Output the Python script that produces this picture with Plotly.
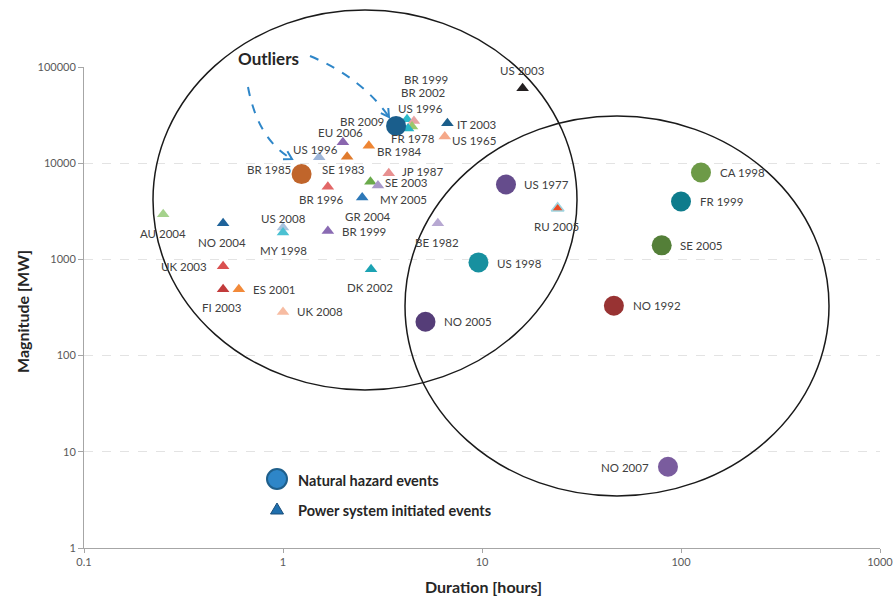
import math
import plotly.graph_objects as go

# ---------------- data ----------------
nat_labels = ["BR 1985", "BR 2009", "US 1977", "US 1998", "NO 2005",
              "CA 1998", "FR 1999", "SE 2005", "NO 1992", "NO 2007"]
nat_duration = [1.24, 3.7, 13.2, 9.6, 5.2, 126, 100, 80, 46, 86]
nat_magnitude = [7700, 24400, 6000, 930, 225, 8000, 4000, 1400, 330, 7]

pow_labels = ["US 2003", "IT 2003", "US 1965", "US 1996", "BR 1999", "BR 2002",
              "FR 1978", "EU 2006", "BR 1984", "US 1996", "SE 1983", "JP 1987",
              "SE 2003", "GR 2004", "BR 1996", "MY 2005", "AU 2004", "NO 2004",
              "US 2008", "MY 1998", "BR 1999", "BE 1982", "RU 2005", "UK 2003",
              "FI 2003", "ES 2001", "DK 2002", "UK 2008"]
pow_duration = [16, 6.7, 6.5, 4.2, 4.55, 4.45, 4.25, 2.0, 2.7, 1.52, 2.1, 3.4,
                2.75, 3.0, 1.68, 2.5, 0.25, 0.5, 1.0, 1.0, 1.68, 6.0, 24, 0.5,
                0.5, 0.6, 2.77, 1.0]
pow_magnitude = [60000, 26000, 19000, 28600, 27500, 24000, 23000, 16500, 15200,
                 11500, 11700, 7850, 6400, 5850, 5700, 4400, 2950, 2370, 2150,
                 1900, 1970, 2370, 3400, 850, 490, 490, 790, 284]

x_tickvals = [0.1, 1, 10, 100, 1000]
x_ticktext = ["0.1", "1", "10", "100", "1000"]
y_tickvals = [1, 10, 100, 1000, 10000, 100000]
y_ticktext = ["1", "10", "100", "1000", "10000", "100000"]

# ---------------- styles ----------------
nat_colors = ["#C0652B", "#1A5E8C", "#654C8C", "#17909F", "#553D78",
              "#6D9A47", "#0E7C8C", "#547F38", "#983333", "#7A5C9E"]
# label placement: (anchor, dx px, dy px down)
nat_lab_pos = [("right", -9, -5), ("right", -10, -4), ("left", 16, 0), ("left", 17, 1),
               ("left", 17, 0), ("left", 17, 0), ("left", 17, 0), ("left", 16, 0),
               ("left", 17, 0), ("right", -17, 1)]

pow_colors = ["#231F20", "#1B5E8A", "#F5A889", "#2DBBCB", "#E6A3A3", "#9CC86B",
              "#27B3C6", "#8A66AE", "#EE8533", "#9DB5D8", "#E07B2D", "#E89090",
              "#6AAA4B", "#A898C8", "#E26767", "#2D78B8", "#A5D28C", "#1F639A",
              "#A8C3DF", "#4BC1D2", "#8A6BB3", "#B7A8D2", "#EC4B24", "#DA5050",
              "#C23B3B", "#F28A3A", "#1CA3B3", "#F7BCA2"]
pow_line_colors = ["rgba(0,0,0,0)"] * len(pow_labels)
pow_line_widths = [0] * len(pow_labels)
pow_line_colors[22] = "#9FD5E0"
pow_line_widths[22] = 1.5
pow_lab_pos = [("center", 0, -18), ("left", 8, 1), ("left", 5, 4), ("center", 13, -11),
               ("center", 12, -41), ("center", 11, -34), ("center", 5, 10),
               ("center", -2, -10), ("left", 6, 6), ("center", -4, -8),
               ("center", -4, 13), ("left", 11, -2), ("left", 13, 1),
               ("center", -10, 31), ("center", -6, 13), ("left", 16, 2),
               ("center", 0, 19), ("center", -1, 19), ("center", 0, -9),
               ("center", 0, 18), ("left", 12, 0), ("center", -1, 19),
               ("center", -1, 18), ("right", -14, 0), ("center", -1, 18),
               ("left", 12, 0), ("center", -1, 18), ("left", 12, 0)]

FONT = "Lato, 'Open Sans', sans-serif"
LAB_COLOR = "#404040"

# plot area in pixels
L, R, T, B = 84, 880, 67, 548
W, H = 896, 598


def px(x):
    return (x - L) / (R - L)


def py(y):
    return (B - y) / (B - T)


fig = go.Figure()
fig.add_trace(go.Scatter(
    x=pow_duration, y=pow_magnitude, mode="markers", showlegend=False,
    marker=dict(symbol="triangle-up", size=11, color=pow_colors,
                line=dict(color=pow_line_colors, width=pow_line_widths)),
    hovertext=pow_labels))
fig.add_trace(go.Scatter(
    x=nat_duration, y=nat_magnitude, mode="markers", showlegend=False,
    marker=dict(symbol="circle", size=20, color=nat_colors, line=dict(width=0)),
    hovertext=nat_labels))

annotations = []


def add_labels(labels, xs, ys, pos):
    for lab, xv, yv, (anc, dx, dy) in zip(labels, xs, ys, pos):
        annotations.append(dict(
            x=math.log10(xv), y=math.log10(yv), xref="x", yref="y",
            text=lab, showarrow=False, xanchor=anc, yanchor="middle",
            xshift=dx, yshift=-dy,
            font=dict(family=FONT, size=11.5, color=LAB_COLOR)))


add_labels(nat_labels, nat_duration, nat_magnitude, nat_lab_pos)
add_labels(pow_labels, pow_duration, pow_magnitude, pow_lab_pos)

# Outliers text
annotations.append(dict(x=px(268), y=py(58), xref="paper", yref="paper",
                        text="<b>Outliers</b>", showarrow=False,
                        xanchor="center", yanchor="middle",
                        font=dict(family=FONT, size=17, color="#262626")))
# axis titles
annotations.append(dict(x=px(483), y=py(586), xref="paper", yref="paper",
                        text="<b>Duration [hours]</b>", showarrow=False,
                        xanchor="center", yanchor="middle",
                        font=dict(family=FONT, size=16, color="#262626")))
annotations.append(dict(x=px(22), y=py(312), xref="paper", yref="paper",
                        text="<b>Magnitude [MW]</b>", showarrow=False,
                        textangle=-90, xanchor="center", yanchor="middle",
                        font=dict(family=FONT, size=16, color="#262626")))
# legend texts
annotations.append(dict(x=px(296), y=py(481), xref="paper", yref="paper",
                        text="<b>Natural hazard events</b>", showarrow=False,
                        xanchor="left", yanchor="middle",
                        font=dict(family=FONT, size=14.5, color="#262626")))
annotations.append(dict(x=px(296), y=py(510), xref="paper", yref="paper",
                        text="<b>Power system initiated events</b>", showarrow=False,
                        xanchor="left", yanchor="middle",
                        font=dict(family=FONT, size=14.5, color="#262626")))

shapes = []
# ellipses
for cx, cy, rx, ry in [(365, 200, 212, 190), (617, 306, 212, 190)]:
    shapes.append(dict(type="circle", xref="paper", yref="paper",
                       x0=px(cx - rx), x1=px(cx + rx), y0=py(cy + ry), y1=py(cy - ry),
                       line=dict(color="#1a1a1a", width=1.5), fillcolor="rgba(0,0,0,0)"))

ARROW_C = "#2E86C8"


def curved_arrow(s, c, e):
    path = "M {},{} Q {},{} {},{}".format(px(s[0]), py(s[1]), px(c[0]), py(c[1]),
                                          px(e[0]), py(e[1]))
    shapes.append(dict(type="path", xref="paper", yref="paper", path=path,
                       line=dict(color=ARROW_C, width=2, dash="dash")))
    dx, dy = e[0] - c[0], e[1] - c[1]
    n = math.hypot(dx, dy)
    ux, uy = dx / n, dy / n
    ln = 9
    pts = []
    for ang in (math.radians(30), -math.radians(30)):
        ca, sa = math.cos(ang), math.sin(ang)
        bx = -(ux * ca - uy * sa)
        by = -(ux * sa + uy * ca)
        pts.append((e[0] + bx * ln, e[1] + by * ln))
    hp = "M {},{} L {},{} L {},{}".format(px(pts[0][0]), py(pts[0][1]),
                                          px(e[0]), py(e[1]),
                                          px(pts[1][0]), py(pts[1][1]))
    shapes.append(dict(type="path", xref="paper", yref="paper", path=hp,
                       line=dict(color=ARROW_C, width=2)))


curved_arrow((248, 87), (258, 140), (292, 159))
curved_arrow((310, 56), (362, 78), (389, 117))

# legend symbols
shapes.append(dict(type="circle", xref="paper", yref="paper",
                   x0=px(267), x1=px(287), y0=py(489), y1=py(469),
                   fillcolor="#2E86C8", line=dict(color="#1F5F8B", width=2)))
tri = "M {},{} L {},{} L {},{} Z".format(px(270.5), py(514), px(283.5), py(514),
                                         px(277), py(503))
shapes.append(dict(type="path", xref="paper", yref="paper", path=tri,
                   fillcolor="#1F6FAE", line=dict(color="#1B4F7A", width=1)))

fig.update_layout(
    width=W, height=H,
    margin=dict(l=L, r=W - R, t=T, b=H - B, autoexpand=False),
    paper_bgcolor="white", plot_bgcolor="white",
    showlegend=False,
    annotations=annotations, shapes=shapes,
    font=dict(family=FONT, color="#595959"),
    xaxis=dict(type="log", range=[-1, 3], tickvals=x_tickvals, ticktext=x_ticktext,
               showgrid=False, zeroline=False, showline=True, linecolor="#A6A6A6",
               linewidth=1, ticks="outside", tickcolor="#A6A6A6", ticklen=4,
               automargin=False,
               tickfont=dict(family=FONT, size=11, color="#595959")),
    yaxis=dict(type="log", range=[0, 5], tickvals=y_tickvals, ticktext=y_ticktext,
               showgrid=True, gridcolor="#E3E3E3", griddash="dash", gridwidth=1,
               zeroline=False, showline=True, linecolor="#A6A6A6", linewidth=1,
               ticks="outside", tickcolor="#A6A6A6", ticklen=5, automargin=False,
               tickfont=dict(family=FONT, size=11, color="#595959")),
)

fig.write_html("out.html")
